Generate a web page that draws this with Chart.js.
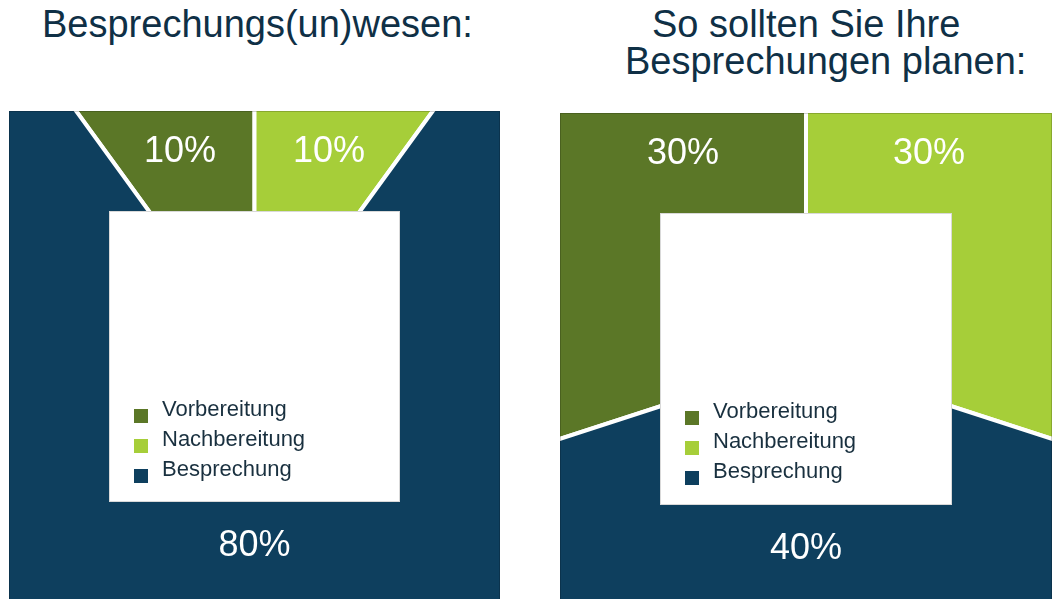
<!DOCTYPE html>
<html>
<head>
<meta charset="utf-8">
<script src="https://cdn.jsdelivr.net/npm/chart.js@4"></script>
<style>
  html, body { margin: 0; padding: 0; background: #fff; width: 1052px; height: 599px; overflow: hidden; position: relative;
    font-family: "Liberation Sans", Arial, sans-serif; }
  .title { position: absolute; color: #0f3046; font-size: 38px; line-height: 38px; white-space: nowrap; }
  .pie-box { position: absolute; }
</style>
</head>
<body>
<div class="title" style="left:42px; top:5px">Besprechungs(un)wesen:</div>
<div class="title" style="left:652px; top:5px">So sollten Sie Ihre</div>
<div class="title" style="left:625px; top:42px">Besprechungen planen:</div>

<div class="pie-box" style="left:9px; top:111px; width:491px; height:491px"><canvas id="chart-ist"></canvas></div>
<div class="pie-box" style="left:560px; top:113px; width:492px; height:492px"><canvas id="chart-soll"></canvas></div>

<script>
const categories = ['Vorbereitung', 'Nachbereitung', 'Besprechung'];
const istValues  = [10, 10, 80];
const sollValues = [30, 30, 40];
const colors     = ['#5b7727', '#a6ce39', '#0e3f5e'];

// pie drawn big and clipped by the canvas to a square, white box + legend in the middle
const squarePie = {
  id: 'squarePie',
  afterDatasetsDraw(chart, args, opts) {
    const { ctx, chartArea: a } = chart;
    const arcs = chart.getDatasetMeta(0).data;
    const values = chart.data.datasets[0].data;
    const bg = chart.data.datasets[0].backgroundColor;

    ctx.save();
    ctx.strokeStyle = 'rgba(0,0,0,0.18)';
    ctx.lineWidth = 1;
    ctx.strokeRect(a.left + 0.5, a.top + 0.5, a.width - 1, a.height - 1);

    // percentage labels: centred on the slice's extent along a row near the top or bottom edge
    ctx.font = '36px "Liberation Sans", Arial, sans-serif';
    ctx.fillStyle = '#fff';
    ctx.textAlign = 'center';
    ctx.textBaseline = 'middle';
    arcs.forEach((arc, i) => {
      const { startAngle, endAngle } = arc.getProps(['startAngle', 'endAngle'], true);
      const mid = (startAngle + endAngle) / 2;
      const y = Math.sin(mid) < 0 ? a.top + opts.topRow : a.bottom - opts.bottomRow;
      let minX = null, maxX = null;
      for (let x = a.left; x <= a.right; x++) {
        if (arc.inRange(x, y, true)) { if (minX === null) minX = x; maxX = x; }
      }
      if (minX !== null) ctx.fillText(values[i] + '%', (minX + maxX) / 2, y);
    });

    // white centre box
    const bx = a.left + opts.inset, by = a.top + opts.inset;
    const bw = a.width - 2 * opts.inset, bh = a.height - 2 * opts.inset;
    ctx.fillStyle = '#fff';
    ctx.fillRect(bx, by, bw, bh);
    ctx.strokeStyle = 'rgba(0,0,0,0.15)';
    ctx.strokeRect(bx + 0.5, by + 0.5, bw - 1, bh - 1);

    // legend
    ctx.font = '22px "Liberation Sans", Arial, sans-serif';
    ctx.textAlign = 'left';
    ctx.textBaseline = 'alphabetic';
    chart.data.labels.forEach((lab, i) => {
      const base = by + opts.legendTop + i * opts.rowGap;
      ctx.fillStyle = bg[i];
      ctx.fillRect(bx + 25, base - 7, 14, 14);
      ctx.fillStyle = '#19303f';
      ctx.fillText(lab, bx + 53, base);
    });
    ctx.restore();
  }
};

function makePie(id, values) {
  const total = values.reduce((s, v) => s + v, 0);
  return new Chart(document.getElementById(id), {
    type: 'pie',
    data: {
      labels: categories,
      datasets: [{
        data: values,
        backgroundColor: colors,
        borderColor: '#fff',
        borderWidth: 4
      }]
    },
    options: {
      responsive: true, maintainAspectRatio: false,
      animation: false,
      events: [],
      rotation: -values[0] / total * 360,
      radius: '150%',
      layout: { padding: 0 },
      plugins: {
        legend: { display: false },
        tooltip: { enabled: false },
        squarePie: { inset: 100, topRow: 41, bottomRow: 56, legendTop: 205, rowGap: 30 }
      }
    },
    plugins: [squarePie]
  });
}

makePie('chart-ist', istValues);
makePie('chart-soll', sollValues);
</script>
</body>
</html>
